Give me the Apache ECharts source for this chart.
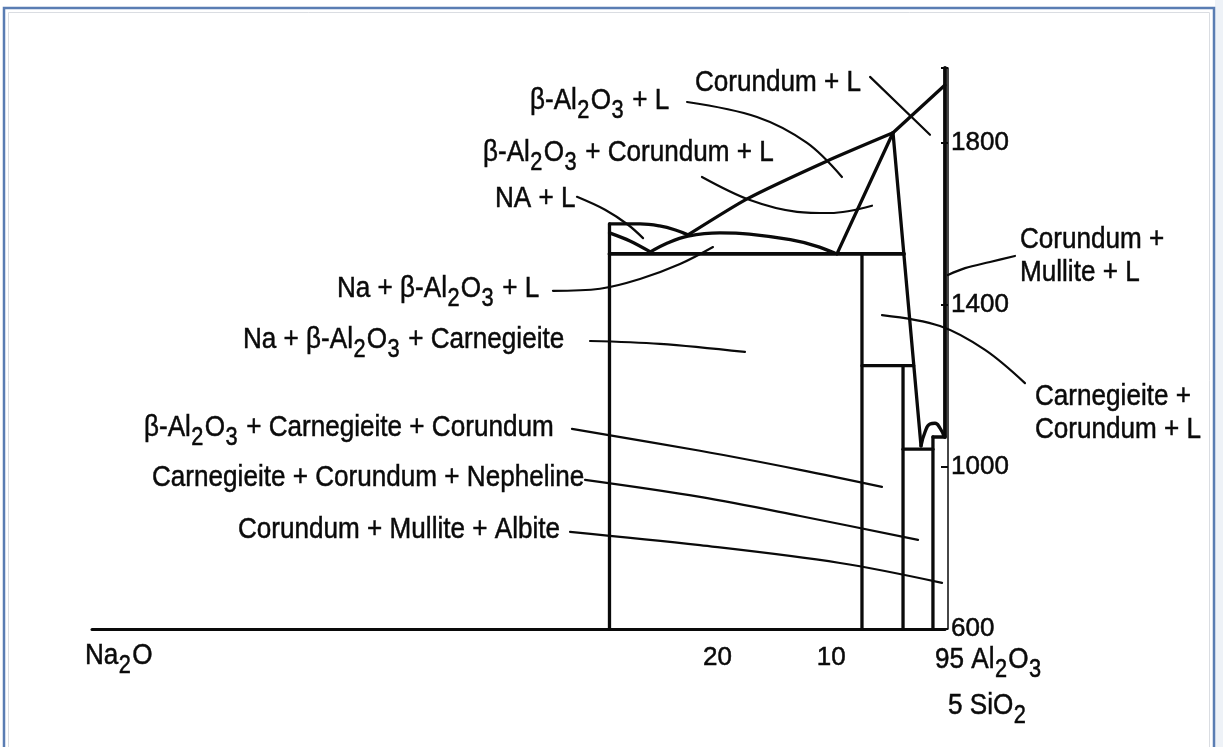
<!DOCTYPE html>
<html>
<head>
<meta charset="utf-8">
<script src="https://cdn.jsdelivr.net/npm/echarts@6/dist/echarts.min.js"></script>
<style>
html,body{margin:0;padding:0;background:#fff;}
#c{width:1223px;height:747px;}
</style>
</head>
<body>
<div id="c"></div>
<script>
// ---------------- DATA ----------------
// x = wt% Na2O (0 at the 95 Al2O3 / 5 SiO2 end, to the right), y = temperature in °C
const xTickValues = [20, 10];
const yTickValues = [600, 1000, 1400, 1800];
const endLabelNa2O = 'Na{s|2}O';
const endLabelAl2O3 = '95 Al{s|2}O{s|3}';
const endLabelSiO2 = '5 SiO{s|2}';

// phase boundaries  [wt% Na2O, °C]
const leftWall         = [[29.5, 600], [29.5, 1600]];
const naLiquidus       = [[29.5, 1600], [26.8, 1600], [25.1, 1595], [23.7, 1585], [22.6, 1573]];
const naSolidus        = [[29.5, 1578], [27.7, 1558], [25.9, 1531]];
const betaDome         = [[25.9, 1531], [24.4, 1553], [22.6, 1570], [19.8, 1578], [17.2, 1575], [13.6, 1561], [11.4, 1546], [9.7, 1528]];
const betaLiquidus     = [[22.6, 1573], [17.4, 1662], [10.4, 1755], [4.57, 1825]];
const corundumLiquidus = [[4.57, 1825], [0, 1943]];
const betaCorundum     = [[4.57, 1825], [9.5, 1526]];
const corundumSlope    = [[4.57, 1825], [2.11, 1052]];
const eutectic         = [[29.5, 1526], [3.6, 1526]];
const wallA            = [[7.3, 600], [7.3, 1526]];
const shelfA           = [[7.3, 1250], [2.75, 1250]];
const wallB            = [[3.69, 600], [3.69, 1250]];
const shelfB           = [[3.69, 1044], [1.06, 1044]];
const wallC            = [[1.06, 600], [1.06, 1074]];
const shelfC           = [[1.06, 1074], [0, 1074]];
const wallD            = [[0, 1074], [0, 1985]];
const bump             = [[2.11, 1052], [1.76, 1086], [1.32, 1106], [0.88, 1108], [0.44, 1096], [0.09, 1076]];

// leader lines from field labels  [wt% Na2O, °C]
const leadCorundumL   = [[6.59, 1963], [1.32, 1820]];
const leadBetaL       = [[22.68, 1901], [16.53, 1864], [12.13, 1800], [9.06, 1716]];
const leadBetaCorL    = [[21.37, 1716], [17.15, 1659], [13.01, 1630], [10.11, 1627], [6.42, 1645]];
const leadNaL         = [[32.36, 1667], [29.89, 1635], [27.87, 1598], [26.55, 1565]];
const leadNaBetaL     = [[34.47, 1435], [30.33, 1440], [26.82, 1464], [23.30, 1501], [20.40, 1543]];
const leadNaBetaCarn  = [[31.21, 1311], [25.06, 1304], [17.59, 1284]];
const leadBetaCarnCor = [[32.80, 1094], [21.54, 1040], [12.75, 993], [5.54, 951]];
const leadCarnCorNeph = [[31.65, 968], [21.54, 926], [12.75, 879], [2.37, 820]];
const leadCorMulAlb   = [[32.97, 840], [21.54, 807], [9.23, 763], [0.26, 714]];
const leadCorMulL     = [[-6.15, 1521], [-3.96, 1506], [-1.76, 1491], [-0.26, 1474]];
const leadCarnCorL    = [[5.54, 1375], [0.44, 1348], [-3.52, 1289], [-7.03, 1207]];

// field labels
const fieldLabels = [
  'Corundum + L',
  'β-Al{s|2}O{s|3} + L',
  'β-Al{s|2}O{s|3} + Corundum + L',
  'NA + L',
  'Na + β-Al{s|2}O{s|3} + L',
  'Na + β-Al{s|2}O{s|3} + Carnegieite',
  'β-Al{s|2}O{s|3} + Carnegieite + Corundum',
  'Carnegieite + Corundum + Nepheline',
  'Corundum + Mullite + Albite',
  'Corundum +\nMullite + L',
  'Carnegieite +\nCorundum + L'
];

// ---------------- LAYOUT / STYLE ----------------
const labelPlacement = [
  [695, 83], [530, 101], [483, 153], [495, 199], [337, 289], [243, 340],
  [144, 428], [152, 478], [238, 530], [1020, 256], [1035, 413]
];

function fontAvailable(name) {
  const ctx = document.createElement('canvas').getContext('2d');
  const s = 'Carnegieite + Corundum 1800';
  ctx.font = '40px monospace'; const w1 = ctx.measureText(s).width;
  ctx.font = '40px serif'; const w2 = ctx.measureText(s).width;
  ctx.font = '40px "' + name + '", monospace'; const a = ctx.measureText(s).width;
  ctx.font = '40px "' + name + '", serif'; const b = ctx.measureText(s).width;
  return Math.abs(a - w1) > 0.5 || Math.abs(b - w2) > 0.5;
}
const NARROW = fontAvailable('Liberation Sans Narrow');
const FAMILY = NARROW ? "'Liberation Sans Narrow', 'Liberation Sans', sans-serif" : "'Liberation Sans', Arial, sans-serif";
const TEXT_SIZE = NARROW ? 32 : 30;
const SUB_SIZE = NARROW ? 27 : 25;
const SCALE_X = NARROW ? 1 : 0.87;
const AXIS_SIZE = NARROW ? 32 : 26;
const INK = '#0a0a0a';
const BOLDEN = 0.5;

function textEl(text, x, y, lh) {
  return {
    type: 'text', x: x, y: y, scaleX: SCALE_X, z: 50, silent: true,
    style: {
      text: text, fill: INK, fontSize: TEXT_SIZE, fontFamily: FAMILY,
      stroke: INK, lineWidth: BOLDEN,
      align: 'left', verticalAlign: 'middle',
      lineHeight: lh || 34,
      rich: { s: { fontSize: SUB_SIZE, fontFamily: FAMILY, fill: INK, stroke: INK, lineWidth: BOLDEN,
                   padding: [20, 1.5, 0, 0.5], lineHeight: lh || 34 } }
    }
  };
}

function boundary(data, smooth, w) {
  return { type: 'line', data: data, symbol: 'none', smooth: smooth || false, clip: false, silent: true,
           animation: false, z: 3, lineStyle: { color: INK, width: w || 3.3, cap: 'round', join: 'round' } };
}
function leader(data, wide) {
  const s = { type: 'line', data: data, symbol: 'none', smooth: 0.35, clip: false, silent: true,
           animation: false, z: 3, lineStyle: { color: INK, width: 2.2, cap: 'round' } };
  if (wide) { s.xAxisIndex = 1; s.yAxisIndex = 1; }
  return s;
}

const series = [
  boundary(leftWall), boundary(naLiquidus, 0.4), boundary(naSolidus, 0.3), boundary(betaDome, 0.4),
  boundary(betaLiquidus, 0.2), boundary(corundumLiquidus), boundary(betaCorundum), boundary(corundumSlope),
  boundary(eutectic, false, 3.8), boundary(wallA), boundary(shelfA), boundary(wallB), boundary(shelfB),
  boundary(wallC), boundary(shelfC), boundary(wallD, false, 3.8), boundary(bump, 0.5),
  leader(leadCorundumL), leader(leadBetaL), leader(leadBetaCorL), leader(leadNaL), leader(leadNaBetaL),
  leader(leadNaBetaCarn), leader(leadBetaCarnCor), leader(leadCarnCorNeph), leader(leadCorMulAlb),
  leader(leadCorMulL, true), leader(leadCarnCorL, true)
];

const graphics = [
  { type: 'rect', z: -10, silent: true, shape: { x: 1215, y: 0, width: 8, height: 747 }, style: { fill: '#eef2f7' } },
  { type: 'rect', z: -9, silent: true, shape: { x: 4, y: 8, width: 1210, height: 760 }, style: { fill: '#fff', stroke: '#5a7db3', lineWidth: 2.5 } },
  { type: 'rect', z: -8, silent: true, shape: { x: 8.5, y: 12.5, width: 1201, height: 760 }, style: { fill: 'none', stroke: '#dadde2', lineWidth: 1 } }
];
fieldLabels.forEach(function (t, i) {
  const p = labelPlacement[i];
  graphics.push(textEl(t, p[0], p[1], t.indexOf('\n') >= 0 ? 33 : 34));
});
graphics.push(textEl(endLabelNa2O, 85, 656));
graphics.push(textEl(endLabelAl2O3, 935, 660));
graphics.push(textEl(endLabelSiO2, 948, 706));

// main grid: x 0..75 over 92..945 px; wide grid: same scale extended to x = -10 (for the right-hand leaders)
const PX_PER_UNIT = (1223 - 92 - 278) / 75;
const wideRight = 278 - 10 * PX_PER_UNIT;

const chart = echarts.init(document.getElementById('c'), null, { renderer: 'canvas' });
chart.setOption({
  animation: false,
  backgroundColor: 'transparent',
  grid: [
    { left: 92, right: 278, top: 68, bottom: 118, containLabel: false, outerBoundsMode: 'none' },
    { left: 92, right: wideRight, top: 68, bottom: 118, containLabel: false, outerBoundsMode: 'none' }
  ],
  xAxis: [{
    type: 'value', gridIndex: 0, min: 0, max: 75, interval: 10, inverse: true, position: 'bottom',
    axisLine: { show: true, onZero: false, lineStyle: { color: INK, width: 3 } },
    axisTick: { show: false }, splitLine: { show: false },
    axisLabel: {
      show: true, margin: 16, color: INK, fontSize: AXIS_SIZE, fontFamily: FAMILY,
      textBorderColor: INK, textBorderWidth: BOLDEN,
      formatter: function (v) { return xTickValues.indexOf(v) >= 0 ? String(v) : ''; }
    }
  }, {
    type: 'value', gridIndex: 1, min: -10, max: 75, inverse: true, show: false
  }],
  yAxis: [{
    type: 'value', gridIndex: 0, position: 'right', min: 600, max: 1985, interval: 400, offset: 3,
    axisLine: { show: true, onZero: false, lineStyle: { color: INK, width: 1.5 } },
    axisTick: { show: true, inside: true, length: 7, lineStyle: { color: INK, width: 2 } },
    splitLine: { show: false },
    axisLabel: {
      show: true, margin: 3, color: INK, fontSize: AXIS_SIZE, fontFamily: FAMILY,
      textBorderColor: INK, textBorderWidth: BOLDEN,
      formatter: function (v) { return yTickValues.indexOf(v) >= 0 ? String(v) : ''; }
    }
  }, {
    type: 'value', gridIndex: 1, min: 600, max: 1985, show: false
  }],
  series: series,
  graphic: { elements: graphics }
});
</script>
</body>
</html>
